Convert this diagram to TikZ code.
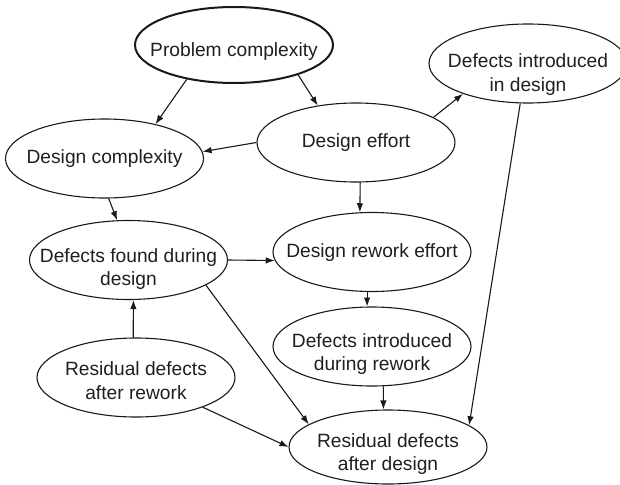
\documentclass[tikz,border=0pt]{standalone}
\usepackage{fontspec}
\setmainfont{Liberation Sans}
\usetikzlibrary{shapes.geometric,arrows.meta}
\tikzset{
  ell/.style={draw=black!90, ellipse, minimum width=198pt, minimum height=79pt, inner sep=0pt, line width=1.1pt},
  txt/.style={align=center, inner sep=0pt, text=black!88, font=\fontsize{19.2}{23.5}\selectfont},
  arr/.style={draw=black!90, line width=1.1pt, -{Latex[length=9pt,width=6.5pt]}}
}
\begin{document}
\begin{tikzpicture}[x=1pt,y=-1pt]
\useasboundingbox (0,0) rectangle (620,484);
\node[ell, line width=2pt, minimum height=76pt, label={[txt,yshift=-7pt]center:{Problem complexity}}] (pc) at (234,45) {};
\node[ell, label={[txt]center:{Design complexity}}] (dc) at (104.5,158.5) {};
\node[ell, label={[txt]center:{Design effort}}] (de) at (356,142.5) {};
\node[ell, label={[txt,yshift=-11pt]center:{Defects introduced\\in design}}] (did) at (528,63.5) {};
\node[ell, label={[txt,yshift=-9pt]center:{Defects found during\\design}}] (dfd) at (128.5,260) {};
\node[ell, label={[txt,yshift=-1pt]center:{Design rework effort}}] (dre) at (372,252) {};
\node[ell, label={[txt,yshift=-7.5pt]center:{Defects introduced\\during rework}}] (dir) at (372,346.5) {};
\node[ell, label={[txt,yshift=-3pt]center:{Residual defects\\after rework}}] (rar) at (136,377.5) {};
\node[ell, minimum height=74pt, label={[txt,yshift=-7pt]center:{Residual defects\\after design}}] (rad) at (388,447) {};

\draw[arr] (pc.216.7) -- (dc.34.3);
\draw[arr] (pc.-25.9) -- (de.136);
\draw[arr] (de.180) -- (dc.4.9);
\draw[arr] (de.18.3) -- (did.205.9);
\draw[arr] (dc.-84.9) -- (dfd.106.7);
\draw[arr] (dfd.-0.6) -- (dre.185.2);
\draw[arr] (de.-84.2) -- (dre.107);
\draw[arr] (dre.-97.3) -- (dir.97.2);
\draw[arr] (dir.-74.4) -- (rad.97.5);
\draw[arr] (rar.94.3) -- (dfd.-83.6);
\draw[arr] (dfd.-18.8) -- (rad.164.5);
\draw[arr] (rar.-24.8) -- (rad.180.6);
\draw[arr] (did.-101.4) -- (rad.15.5);
\end{tikzpicture}
\end{document}
